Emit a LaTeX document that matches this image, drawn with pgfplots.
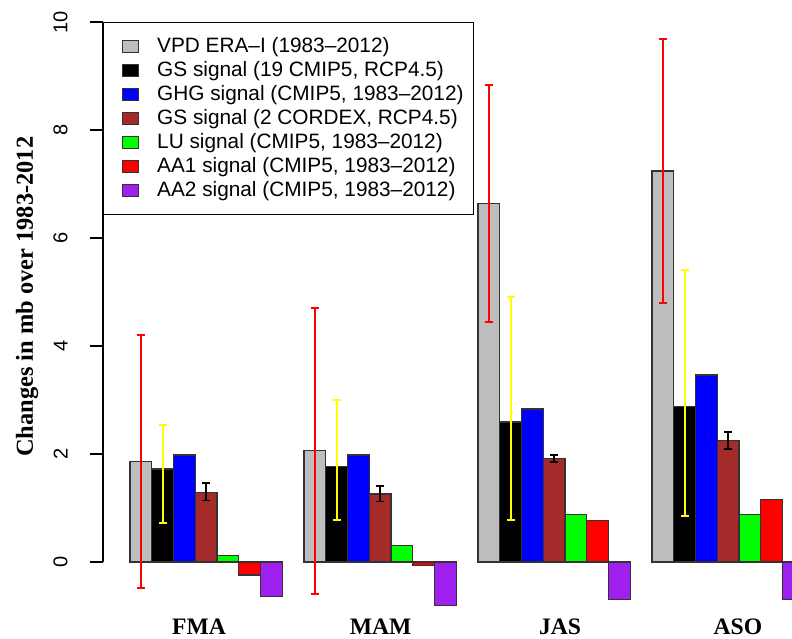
\documentclass[border=0pt]{standalone}
\usepackage{fontspec}
\setmainfont{Liberation Sans}
\newfontfamily\tnr{Liberation Serif}
\usepackage{pgfplots}
\pgfplotsset{compat=1.18}
\definecolor{cgray}{HTML}{BEBEBE}
\definecolor{cblue}{HTML}{0000FF}
\definecolor{cbrown}{HTML}{A52A2A}
\definecolor{cgreen}{HTML}{00FF00}
\definecolor{cred}{HTML}{FF0000}
\definecolor{cpurple}{HTML}{A020F0}
\definecolor{cyellow}{HTML}{FFFF00}
\pgfplotsset{
 mybar/.style={fill=#1, draw=black!80, line width=0.7pt,
   legend image code/.code={\path[draw=none, fill=none] (-4.5pt,0) -- (0pt,0); \draw[fill=#1, draw=black!80, line width=0.6pt] (0pt,-2.9pt) rectangle (8pt,2.9pt);}},
}
\begin{document}
\begin{tikzpicture}
\begin{axis}[name=ax, scale only axis, width=344.5pt, height=319pt,
 xmin=-0.2414, xmax=31.437, ymin=-1.4074, ymax=10.4074,
 ybar, bar width=1, bar shift=0pt,
 axis x line*=bottom, x axis line style={draw=none},
 axis y line*=left, y axis line style={line width=0.6pt, shorten <=38pt, shorten >=11pt, -},
 ytick={0,2,4,6,8,10}, tick align=outside, major tick length=6.5pt,
 y tick style={line width=0.6pt, black},
 /pgf/number format/assume math mode=true,
 yticklabel style={rotate=90, anchor=south, inner sep=0pt, font=\fontsize{10}{12}\selectfont},
 yticklabel shift=11pt,
 xtick={4.17,12.52,20.77,28.95}, xticklabels={FMA,MAM,JAS,ASO},
 x tick style={draw=none},
 xticklabel style={anchor=base, inner sep=0pt, yshift=8.5pt, font=\tnr\bfseries\fontsize{11.8}{14}\selectfont},
 ylabel={Changes in mb over 1983-2012},
 ylabel style={at={(axis description cs:-0.1103,0.535)}, anchor=center, font=\tnr\bfseries\fontsize{12.2}{14}\selectfont},
 legend cell align=left,
 legend style={at={(0,0.96552)}, anchor=north west, draw=black, line width=0.6pt,
   inner xsep=5pt, inner ysep=7.25pt, row sep=2.5pt, column sep=9pt,
   nodes={inner sep=0pt, text height=7.5pt, text depth=2pt},
   font=\fontsize{10.4}{12}\selectfont},
]
\addplot[mybar=cgray, error bars/.cd, y dir=both, y explicit,
  error bar style={cred, line width=1pt}, error mark options={rotate=90, cred, line width=1pt, mark size=2pt}]
 coordinates {(1.5,1.86) +- (0,2.34) (9.5,2.06) +- (0,2.65) (17.5,6.64) +- (0,2.195) (25.5,7.24) +- (0,2.44)};
\addlegendentry{VPD ERA–I (1983–2012)}
\addplot[mybar=black, error bars/.cd, y dir=both, y explicit,
  error bar style={cyellow, line width=1pt}, error mark options={rotate=90, cyellow, line width=1pt, mark size=2pt}]
 coordinates {(2.5,1.72) += (0,0.82) -= (0,0.99) (10.5,1.77) += (0,1.23) -= (0,0.99) (18.5,2.59) += (0,2.32) -= (0,1.81) (26.5,2.88) += (0,2.53) -= (0,2.03)};
\addlegendentry{GS signal (19 CMIP5, RCP4.5)}
\addplot[mybar=cblue] coordinates {(3.5,1.98) (11.5,1.98) (19.5,2.83) (27.5,3.46)};
\addlegendentry{GHG signal (CMIP5, 1983–2012)}
\addplot[mybar=cbrown, error bars/.cd, y dir=both, y explicit,
  error bar style={black, line width=0.8pt}, error mark options={rotate=90, black, line width=0.8pt, mark size=2pt}]
 coordinates {(4.5,1.29) += (0,0.17) -= (0,0.15) (12.5,1.26) += (0,0.15) -= (0,0.14) (20.5,1.92) += (0,0.06) -= (0,0.07) (28.5,2.25) += (0,0.16) -= (0,0.16)};
\addlegendentry{GS signal (2 CORDEX, RCP4.5)}
\addplot[mybar=cgreen] coordinates {(5.5,0.12) (13.5,0.31) (21.5,0.88) (29.5,0.88)};
\addlegendentry{LU signal (CMIP5, 1983–2012)}
\addplot[mybar=cred] coordinates {(6.5,-0.24) (14.5,-0.07) (22.5,0.77) (30.5,1.16)};
\addlegendentry{AA1 signal (CMIP5, 1983–2012)}
\addplot[mybar=cpurple] coordinates {(7.5,-0.64) (15.5,-0.80) (23.5,-0.69) (31.5,-0.69)};
\addlegendentry{AA2 signal (CMIP5, 1983–2012)}
\end{axis}
\pgfresetboundingbox
\path (ax.south west) ++(-51.5pt,0pt) rectangle (ax.north east);
\end{tikzpicture}
\end{document}
